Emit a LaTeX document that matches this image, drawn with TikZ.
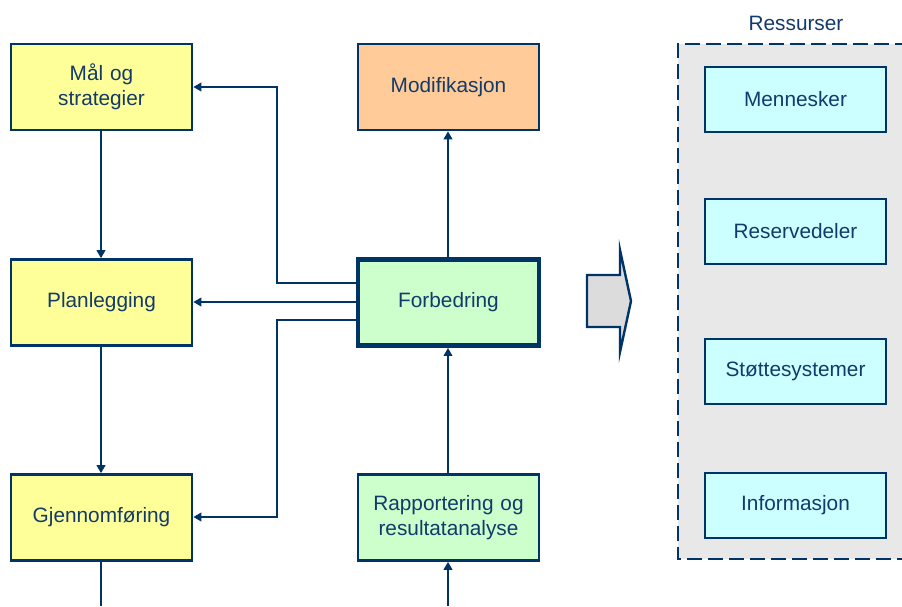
\documentclass[tikz,border=0pt]{standalone}
\usepackage{fontspec}
\setmainfont{Liberation Sans}
\usetikzlibrary{arrows.meta,positioning}
\definecolor{navy}{HTML}{003366}
\definecolor{txt}{HTML}{123A6A}
\definecolor{yel}{HTML}{FFFF99}
\definecolor{ora}{HTML}{FFCC99}
\definecolor{grn}{HTML}{CCFFCC}
\definecolor{cya}{HTML}{CCFFFF}
\definecolor{gry}{HTML}{E8E8E8}
\definecolor{agry}{HTML}{DCDCDC}
\tikzset{
  box/.style={draw=navy, line width=2.6pt, minimum width=181pt, minimum height=86pt,
    text width=170pt, align=center, inner sep=0pt, text=txt,
    font=\fontsize{20.8pt}{25pt}\selectfont},
  rbox/.style={box, minimum height=65pt, fill=cya},
  conn/.style={draw=navy, line width=2.8pt},
  arr/.style={conn, -{Triangle[length=8pt,width=8.5pt]}},
}
\begin{document}
\begin{tikzpicture}[x=1pt,y=-1pt]
\useasboundingbox (0,0) rectangle (902,606);
\clip (0,0) rectangle (902,606);
% resources container
\fill[gry] (678,44) rectangle (910,559);
\draw[navy, line width=2.8pt, dash pattern=on 15pt off 6pt] (910,44) -- (678,44) -- (678,559) -- (910,559);
\node[text=txt, font=\fontsize{20.8pt}{25pt}\selectfont] (res) at (796,23) {Ressurser};
\node[rbox] (men) at (795.5,99.5) {\raisebox{-2pt}{Mennesker}};
\node[rbox] (reserv) at (795.5,231.5) {\raisebox{-2pt}{Reservedeler}};
\node[rbox] (stotte) at (795.5,371.5) {\raisebox{-2pt}{Støttesystemer}};
\node[rbox] (info) at (795.5,505.5) {\raisebox{-2pt}{Informasjon}};
% left column
\node[box, fill=yel] (maal) at (101.5,87) {Mål og\\strategier};
\node[box, fill=yel] (plan) at (101.5,302.5) {\raisebox{-2pt}{Planlegging}};
\node[box, fill=yel] (gjen) at (101.5,517.5) {\raisebox{-2pt}{Gjennomføring}};
% middle column
\node[box, fill=ora] (modi) at (448.5,87) {\raisebox{-2pt}{Modifikasjon}};
\node[box, fill=grn, line width=4.8pt] (forb) at (448.5,302.5) {\raisebox{-2pt}{Forbedring}};
\node[box, fill=grn] (rapp) at (448.5,517.5) {Rapportering og\\resultatanalyse};
% block arrow
\draw[navy, line width=2.4pt, fill=agry, line join=miter]
  (587,275) -- (620,275) -- (620,250) -- (631,301) -- (620,352) -- (620,327) -- (587,327) -- cycle;
% connectors
\coordinate (gbot) at (101,606);
\coordinate (rbot) at (448,606);
\draw[arr] (maal.south -| 101,0) -- (plan.north -| 101,0);
\draw[arr] (plan.south -| 101,0) -- (gjen.north -| 101,0);
\draw[conn] (gjen.south -| 101,0) -- (gbot);
\draw[arr] (forb.west |- 0,283) -- (277,283) -- (277,87) -- (maal.east |- 0,87);
\draw[arr] (forb.west |- 0,302) -- (plan.east |- 0,302);
\draw[arr] (forb.west |- 0,320) -- (277,320) -- (277,517) -- (gjen.east |- 0,517);
\draw[arr] (forb.north -| 448,0) -- (modi.south -| 448,0);
\draw[arr] (rapp.north -| 448,0) -- (forb.south -| 448,0);
\draw[arr] (rbot) -- (rapp.south -| 448,0);
\end{tikzpicture}
\end{document}
